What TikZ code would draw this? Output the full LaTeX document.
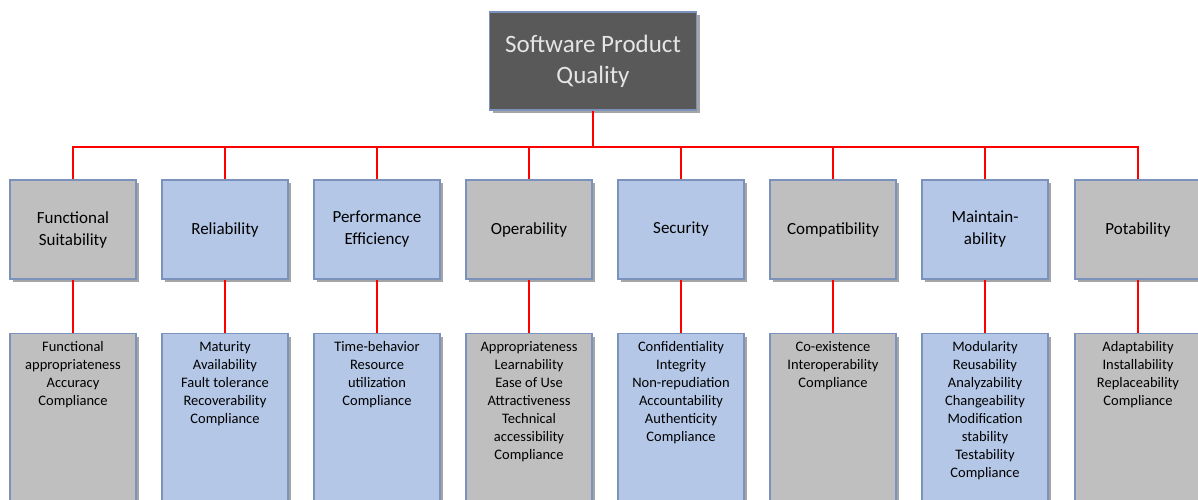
\documentclass[tikz,border=0pt]{standalone}
\usepackage{fontspec}
\setmainfont{Carlito}
\usetikzlibrary{shadows}
\definecolor{boxgray}{HTML}{BFBFBF}
\definecolor{boxblue}{HTML}{B4C7E7}
\definecolor{edgeblue}{HTML}{7A92BC}
\definecolor{topgray}{HTML}{595959}
\tikzset{
  shade box/.style={drop shadow={shadow xshift=3pt,shadow yshift=-3pt,opacity=0.5,fill=black!70}},
  topbox/.style={draw=edgeblue, line width=1.2pt, fill=topgray, shade box, minimum width=207pt, minimum height=98pt,
    align=center, text=black!10, font=\fontsize{25}{31}\selectfont},
  catbox/.style={draw=edgeblue, line width=1.2pt, shade box, minimum width=126pt, minimum height=99pt,
    align=center, text=black, font=\fontsize{17}{22}\selectfont},
  subbox/.style={draw=edgeblue, line width=1.2pt, shade box, minimum width=126pt, minimum height=172pt, anchor=north},
  subtext/.style={anchor=north, align=center, inner sep=0pt, yshift=-8pt, text=black, font=\fontsize{14.5}{18}\selectfont},
  redline/.style={draw=red, line width=2.8pt}
}
\begin{document}
\begin{tikzpicture}[x=1pt,y=-1pt]
    \useasboundingbox (0,0) rectangle (1198,500);
    % top
    \node[topbox] (top) at (593,61) {Software Product\\Quality};
    % characteristics
    \node[catbox,fill=boxgray] (c1) at (73,229.5) {Functional\\Suitability};
    \node[catbox,fill=boxblue] (c2) at (225,229.5) {Reliability};
    \node[catbox,fill=boxblue] (c3) at (377,229.5) {Performance\\Efficiency};
    \node[catbox,fill=boxgray] (c4) at (529,229.5) {Operability};
    \node[catbox,fill=boxblue] (c5) at (681,229.5) {Security};
    \node[catbox,fill=boxgray] (c6) at (833,229.5) {Compatibility};
    \node[catbox,fill=boxblue] (c7) at (985,229.5) {Maintain-\\ability};
    \node[catbox,fill=boxgray] (c8) at (1138,229.5) {Potability};
    % sub-characteristics
    \node[subbox,fill=boxgray,label={[subtext]north:{Functional\\appropriateness\\Accuracy\\Compliance}}] (s1) at (73,333) {};
    \node[subbox,fill=boxblue,label={[subtext]north:{Maturity\\Availability\\Fault tolerance\\Recoverability\\Compliance}}] (s2) at (225,333) {};
    \node[subbox,fill=boxblue,label={[subtext]north:{Time-behavior\\Resource\\utilization\\Compliance}}] (s3) at (377,333) {};
    \node[subbox,fill=boxgray,label={[subtext]north:{Appropriateness\\Learnability\\Ease of Use\\Attractiveness\\Technical\\accessibility\\Compliance}}] (s4) at (529,333) {};
    \node[subbox,fill=boxblue,label={[subtext]north:{Confidentiality\\Integrity\\Non-repudiation\\Accountability\\Authenticity\\Compliance}}] (s5) at (681,333) {};
    \node[subbox,fill=boxgray,label={[subtext]north:{Co-existence\\Interoperability\\Compliance}}] (s6) at (833,333) {};
    \node[subbox,fill=boxblue,label={[subtext]north:{Modularity\\Reusability\\Analyzability\\Changeability\\Modification\\stability\\Testability\\Compliance}}] (s7) at (985,333) {};
    \node[subbox,fill=boxgray,label={[subtext]north:{Adaptability\\Installability\\Replaceability\\Compliance}}] (s8) at (1138,333) {};
    % connectors
    \coordinate (bus) at (593,147);
    \draw[redline] (top.south) -- (bus);
    \draw[redline] (bus) -| (c1.north);
    \draw[redline] (bus) -| (c2.north);
    \draw[redline] (bus) -| (c3.north);
    \draw[redline] (bus) -| (c4.north);
    \draw[redline] (bus) -| (c5.north);
    \draw[redline] (bus) -| (c6.north);
    \draw[redline] (bus) -| (c7.north);
    \draw[redline] (bus) -| (c8.north);
    \draw[redline] (c1.south) -- (s1.north);
    \draw[redline] (c2.south) -- (s2.north);
    \draw[redline] (c3.south) -- (s3.north);
    \draw[redline] (c4.south) -- (s4.north);
    \draw[redline] (c5.south) -- (s5.north);
    \draw[redline] (c6.south) -- (s6.north);
    \draw[redline] (c7.south) -- (s7.north);
    \draw[redline] (c8.south) -- (s8.north);
\end{tikzpicture}
\end{document}
